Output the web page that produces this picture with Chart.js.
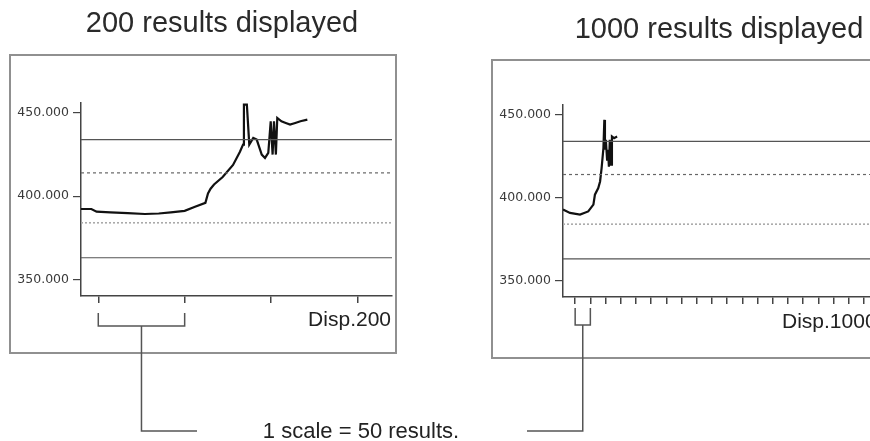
<!DOCTYPE html>
<html>
<head>
<meta charset="utf-8">
<script src="https://cdn.jsdelivr.net/npm/chart.js@4.4.1/dist/chart.umd.min.js"></script>
<style>
  html, body { margin: 0; padding: 0; background: #fff; overflow: hidden; }
  #wrap { position: relative; width: 870px; height: 441px; }
  canvas { position: absolute; top: 0; }
  #chart200 { left: 0; }
  #chart1000 { left: 480px; }
</style>
</head>
<body>
<div id="wrap">
  <canvas id="chart200" width="480" height="441"></canvas>
  <canvas id="chart1000" width="390" height="441"></canvas>
</div>
<script>
// values
const yTicks = [350, 400, 450];
const limitValues = [434, 414, 384, 363];   // upper limit, upper warning, lower warning, lower limit

const ticks200 = [10, 60, 110, 160];
const ticks1000 = [40, 90, 140, 190, 240, 290, 340, 390, 440, 490,
                   540, 590, 640, 690, 740, 790, 840, 890, 940, 990];

const x200 = [0, 6, 9, 17, 27, 37, 45, 52, 60, 66,
              72, 73.5, 75, 77, 82, 88, 92, 93.8, 94.3, 96,
              97.4, 99.7, 101.7, 104.6, 106.5, 108.4, 109.8, 110.9, 111.7, 112.8,
              113.6, 116, 118.5, 121, 124, 127, 131];
const y200 = [392.3, 392.3, 390.7, 390.3, 389.8, 389.3, 389.6, 390.3, 391.2, 393.7,
              396, 401.7, 404.5, 407, 411.5, 418.8, 426.7, 431, 455, 455,
              431, 435, 434, 425, 423, 426, 445, 425, 445, 425,
              447, 445, 444, 443, 444, 445, 446];

const x1000 = [0, 23, 56, 83, 100, 105, 116, 122, 127, 133,
               136, 138, 141, 145, 148, 151, 154, 158, 161, 168, 178];
const y1000 = [392.8, 390.8, 389.8, 391.7, 395.8, 401.8, 405.8, 409.8, 417.9, 429.9,
               447, 429, 435, 423, 429, 418.7, 435, 420, 437, 436, 437];

// line look of the four limit lines
const limitStyles = [
    { color: '#555', dash: [], width: 1.2 },
    { color: '#666', dash: [3, 3], width: 1.2 },
    { color: '#aaa', dash: [2, 2], width: 1.6 },
    { color: '#555', dash: [], width: 1.2 }
];

function limitDatasets(xmin, xmax) {
    return limitValues.map((v, i) => ({
        data: [{ x: xmin, y: v }, { x: xmax, y: v }],
        borderColor: limitStyles[i].color,
        borderDash: limitStyles[i].dash,
        borderWidth: limitStyles[i].width,
        pointRadius: 0
    }));
}

// box, title, Disp label, the "1 scale" bracket and its leader line
function makeDecor(d) {
    return {
        id: 'decor',
        beforeDraw(chart) {
            const ctx = chart.ctx;
            ctx.save();
            ctx.fillStyle = '#fff';
            ctx.fillRect(0, 0, chart.width, chart.height);
            ctx.strokeStyle = '#909090';
            ctx.lineWidth = 2;
            ctx.strokeRect(d.box.x, d.box.y, d.box.w, d.box.h);
            ctx.fillStyle = '#2a2a2a';
            ctx.font = '29px "Liberation Sans", Arial, sans-serif';
            ctx.textAlign = 'center';
            ctx.fillText(d.title, d.titleX, d.titleY);
            ctx.restore();
        },
        afterDraw(chart) {
            const ctx = chart.ctx;
            const xs = chart.scales.x;
            const a = xs.getPixelForValue(d.ticks[0]);
            const b = xs.getPixelForValue(d.ticks[1]);
            const mid = (a + b) / 2;
            ctx.save();
            ctx.fillStyle = '#222';
            ctx.font = '21px "Liberation Sans", Arial, sans-serif';
            ctx.textAlign = d.dispAlign;
            ctx.fillText(d.disp, d.dispX, d.dispY);

            ctx.strokeStyle = '#555';
            ctx.lineWidth = 1.5;
            ctx.beginPath();
            ctx.moveTo(a, d.bracketTop);
            ctx.lineTo(a, d.bracketBottom);
            ctx.lineTo(b, d.bracketBottom);
            ctx.lineTo(b, d.bracketTop);
            ctx.moveTo(mid, d.bracketBottom);
            ctx.lineTo(mid, 431);
            ctx.lineTo(d.leaderEnd, 431);
            ctx.stroke();

            if (d.note) {
                ctx.font = '22px "Liberation Sans", Arial, sans-serif';
                ctx.textAlign = 'center';
                ctx.fillText(d.note, 361, 438);
            }
            ctx.restore();
        }
    };
}

function createPanel(id, xs, ys, xTicks, xmax, layout, decor) {
    const points = xs.map((x, i) => ({ x: x, y: ys[i] }));
    const datasets = limitDatasets(0, xmax);
    datasets.push({
        data: points,
        borderColor: '#111',
        borderWidth: 2.2,
        pointRadius: 0,
        tension: 0
    });

    return new Chart(document.getElementById(id), {
        type: 'line',
        data: { datasets: datasets },
        options: {
            responsive: false,
            animation: false,
            events: [],
            layout: { padding: layout.padding },
            plugins: { legend: { display: false }, tooltip: { enabled: false } },
            scales: {
                x: {
                    type: 'linear',
                    min: 0,
                    max: xmax,
                    afterBuildTicks: (s) => { s.ticks = xTicks.map(v => ({ value: v })); },
                    afterFit: (s) => { s.height = 20; },
                    ticks: { autoSkip: false, callback: () => '' },
                    grid: { drawOnChartArea: false, drawTicks: true, tickLength: 7, color: '#444', lineWidth: 1.5 },
                    border: { display: true, color: '#444', width: 1.5 }
                },
                y: {
                    type: 'linear',
                    min: 340,
                    max: 456,
                    afterBuildTicks: (s) => { s.ticks = yTicks.map(v => ({ value: v })); },
                    afterFit: (s) => { s.width = layout.yWidth; },
                    ticks: {
                        padding: 4,
                        color: '#3a3a3a',
                        font: { family: '"DejaVu Sans", sans-serif', size: 12.5 },
                        callback: (v) => v.toFixed(3)
                    },
                    grid: { drawOnChartArea: false, drawTicks: true, tickLength: 8, color: '#444', lineWidth: 1.2 },
                    border: { display: true, color: '#444', width: 1.5 }
                }
            }
        },
        plugins: [makeDecor(decor)]
    });
}

window.onload = () => {
    createPanel('chart200', x200, y200, ticks200, 180,
        { yWidth: 81, padding: { left: 0, right: 88, top: 103, bottom: 125 } },
        {
            box: { x: 10, y: 55, w: 386, h: 298 },
            title: '200 results displayed', titleX: 222, titleY: 32,
            disp: 'Disp.200', dispX: 391, dispY: 326, dispAlign: 'right',
            ticks: ticks200, bracketTop: 313, bracketBottom: 326,
            leaderEnd: 197,
            note: '1 scale = 50 results.'
        });

    createPanel('chart1000', x1000, y1000, ticks1000, 1010,
        { yWidth: 83, padding: { left: 0, right: 0, top: 105, bottom: 124 } },
        {
            box: { x: 12, y: 60, w: 400, h: 298 },
            title: '1000 results displayed', titleX: 239, titleY: 38,
            disp: 'Disp.1000', dispX: 302, dispY: 328, dispAlign: 'left',
            ticks: ticks1000, bracketTop: 308, bracketBottom: 325,
            leaderEnd: 47,
            note: null
        });
};
</script>
</body>
</html>
